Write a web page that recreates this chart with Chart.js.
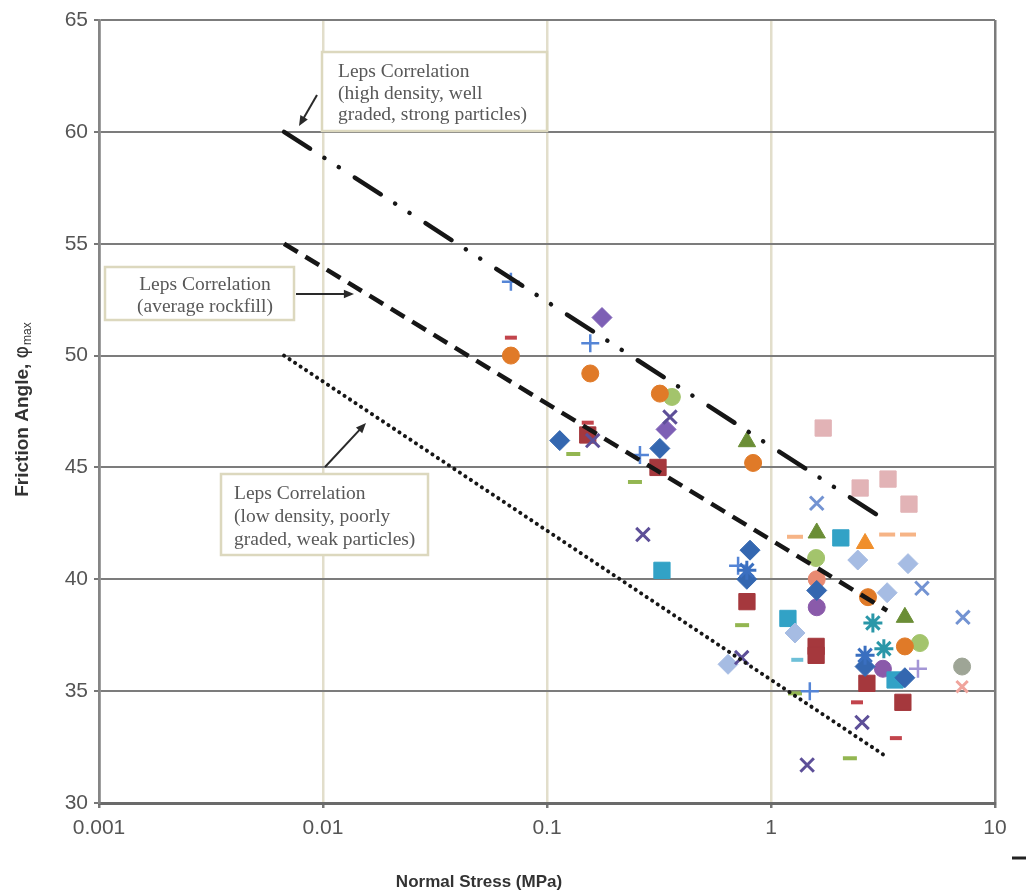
<!DOCTYPE html>
<html>
<head>
<meta charset="utf-8">
<script src="https://cdn.jsdelivr.net/npm/chart.js@4.4.0/dist/chart.umd.min.js"></script>
<style>
  html, body { margin: 0; padding: 0; background: #fff; }
  #wrap { width: 1026px; height: 896px; }
</style>
</head>
<body>
<div id="wrap"><canvas id="chart" width="1026" height="896"></canvas></div>
<script>
// axis ticks
const xTicks = [0.001, 0.01, 0.1, 1, 10];
const xTickLabels = ['0.001', '0.01', '0.1', '1', '10'];

// Leps correlation lines [stress MPa, friction angle]
const lineHigh = [[0.0067, 60], [3.23, 42.65]];
const lineAvg = [[0.0067, 55], [3.3, 38.6]];
const lineLow = [[0.0067, 50], [3.3, 32.05]];

// test data, one list per marker series [stress MPa, friction angle]
const blueDiamond = [[0.114, 46.2], [0.319, 45.85], [0.806, 41.3], [0.78, 40.0], [1.60, 39.5], [2.63, 36.1], [3.96, 35.6]];
const maroonSquare = [[0.152, 46.45], [0.313, 45.0], [0.781, 39.0], [1.59, 37.0], [1.59, 36.6], [2.68, 35.35], [3.88, 34.5]];
const greenTriangle = [[0.781, 46.15], [1.60, 42.07], [3.96, 38.3]];
const purpleCross = [[0.16, 46.2], [0.354, 47.25], [0.268, 42.0], [0.74, 36.5], [1.45, 31.7], [2.55, 33.6]];
const tealStar = [[2.85, 38.05], [3.19, 36.9]];
const blueStar = [[0.78, 40.4], [2.63, 36.6]];
const orangeCircle = [[0.069, 50.0], [0.156, 49.2], [0.319, 48.3], [0.832, 45.2], [2.71, 39.2], [3.96, 37.0]];
const bluePlus = [[0.069, 53.3], [0.156, 50.55], [0.26, 45.55], [0.713, 40.6], [1.49, 35.0]];
const redDash = [[0.069, 50.8], [0.152, 47.0], [2.42, 34.5], [3.61, 32.9]];
const greenDash = [[0.131, 45.6], [0.247, 44.35], [0.743, 37.95], [1.28, 34.9], [2.25, 32.0]];
const orangeDash = [[1.28, 41.9], [3.30, 42.0], [4.09, 42.0]];
const cyanDash = [[1.31, 36.4]];
const cyanSquare = [[0.326, 40.4], [2.05, 41.85], [1.19, 38.25], [3.58, 35.5]];
const paleDiamond = [[2.44, 40.86], [4.09, 40.7], [3.30, 39.4], [1.28, 37.6], [0.643, 36.2]];
const pinkSquare = [[1.71, 46.76], [3.33, 44.48], [2.50, 44.08], [4.13, 43.36]];
const lightCross = [[1.60, 43.4], [4.72, 39.6], [7.19, 38.3]];
const greenCircle = [[0.361, 48.15], [1.59, 40.95], [4.62, 37.15]];
const orangeTriangle = [[2.63, 41.6]];
const purpleDiamond = [[0.176, 51.7], [0.34, 46.7]];
const purpleCircle = [[1.60, 38.75], [3.16, 36.0]];
const salmonCircle = [[1.60, 40.0]];
const grayCircle = [[7.13, 36.1]];
const lilacPlus = [[4.53, 36.0]];
const pinkCross = [[7.13, 35.2]];

const toXY = pts => pts.map(p => ({ x: p[0], y: p[1] }));

// marker look for each series
function markers(data, style, color, radius, width) {
    const filled = ['circle', 'rect', 'rectRot', 'triangle'].includes(style);
    return {
        data: toXY(data),
        showLine: false,
        pointStyle: style,
        pointRadius: radius,
        pointHoverRadius: radius,
        pointBackgroundColor: color,
        pointBorderColor: color,
        pointBorderWidth: filled ? 1 : width
    };
}

function leps(data, dash, width, cap) {
    return {
        data: toXY(data),
        showLine: true,
        pointRadius: 0,
        borderColor: '#161616',
        borderWidth: width,
        borderDash: dash,
        borderCapStyle: cap,
        fill: false
    };
}

const datasets = [
    leps(lineHigh, [31, 17, 0.1, 17, 0.1, 19], 4.5, 'round'),
    leps(lineAvg, [16, 9], 4.5, 'butt'),
    leps(lineLow, [0.1, 6.5], 4, 'round'),
    markers(tealStar, 'star', '#2a97a8', 9.5, 3),
    markers(blueStar, 'star', '#3a6fc0', 9.5, 3),
    markers(purpleCross, 'crossRot', '#5d4f98', 9.5, 3),
    markers(lightCross, 'crossRot', '#7393d2', 9.5, 3),
    markers(pinkCross, 'crossRot', '#f0a49c', 8, 3),
    markers(bluePlus, 'cross', '#5585d6', 9, 2.5),
    markers(lilacPlus, 'cross', '#a496d6', 9, 2.5),
    markers(redDash, 'line', '#c2444c', 6, 4),
    markers(greenDash, 'line', '#93b651', 7, 4),
    markers(orangeDash, 'line', '#f6b486', 8, 4),
    markers(cyanDash, 'line', '#6ec0d8', 6, 4),
    markers(blueDiamond, 'rectRot', '#3467b0', 10),
    markers(purpleDiamond, 'rectRot', '#7d5fb5', 10),
    markers(paleDiamond, 'rectRot', '#a6bce3', 10),
    markers(maroonSquare, 'rect', '#a5383d', 11.5),
    markers(cyanSquare, 'rect', '#32a2c6', 11.5),
    markers(pinkSquare, 'rect', '#e2b3b6', 11.5),
    markers(greenTriangle, 'triangle', '#6b8e36', 10),
    markers(orangeTriangle, 'triangle', '#f08f2c', 10),
    markers(orangeCircle, 'circle', '#e07a28', 8.5),
    markers(greenCircle, 'circle', '#a3c46c', 8.5),
    markers(purpleCircle, 'circle', '#8a5aaa', 8.5),
    markers(salmonCircle, 'circle', '#e88a72', 8.5),
    markers(grayCircle, 'circle', '#9ea596', 8.5)
];

// text boxes, arrows and axis titles
const overlay = {
    id: 'overlay',
    afterDraw(chart) {
        const ctx = chart.ctx;
        ctx.save();

        function box(x, y, w, h) {
            ctx.fillStyle = '#ffffff';
            ctx.fillRect(x, y, w, h);
            ctx.strokeStyle = '#dcd8be';
            ctx.lineWidth = 2.5;
            ctx.strokeRect(x, y, w, h);
        }
        function lines(list, x, y, step, align) {
            ctx.fillStyle = '#585858';
            ctx.font = '19.5px "Liberation Serif", "DejaVu Serif", serif';
            ctx.textAlign = align;
            ctx.textBaseline = 'middle';
            list.forEach((t, i) => ctx.fillText(t, x, y + i * step));
        }
        function arrow(x1, y1, x2, y2) {
            const a = Math.atan2(y2 - y1, x2 - x1);
            const head = 11;
            ctx.strokeStyle = '#2a2a2a';
            ctx.fillStyle = '#2a2a2a';
            ctx.lineWidth = 2;
            ctx.beginPath();
            ctx.moveTo(x1, y1);
            ctx.lineTo(x2 - Math.cos(a) * head * 0.8, y2 - Math.sin(a) * head * 0.8);
            ctx.stroke();
            ctx.beginPath();
            ctx.moveTo(x2, y2);
            ctx.lineTo(x2 - head * Math.cos(a - 0.4), y2 - head * Math.sin(a - 0.4));
            ctx.lineTo(x2 - head * Math.cos(a + 0.4), y2 - head * Math.sin(a + 0.4));
            ctx.closePath();
            ctx.fill();
        }

        box(322, 52, 225, 79);
        lines(['Leps Correlation', '(high density, well', 'graded, strong particles)'], 338, 72, 21.5, 'left');
        arrow(317, 95, 299, 126);

        box(105, 267, 189, 53);
        lines(['Leps Correlation', '(average rockfill)'], 205, 285, 22, 'center');
        arrow(296, 294, 354, 294);

        box(221, 474, 207, 81);
        lines(['Leps Correlation', '(low density, poorly', 'graded, weak particles)'], 234, 494, 23, 'left');
        arrow(325, 467, 366, 423);

        // axis titles
        ctx.fillStyle = '#333333';
        ctx.textBaseline = 'middle';
        ctx.textAlign = 'center';
        ctx.font = 'bold 17px "Liberation Sans", Arial, sans-serif';
        ctx.fillText('Normal Stress (MPa)', 479, 882);

        const p1 = 'Friction Angle, ';
        const p2 = '\u03c6';
        const p3 = 'max';
        const f1 = 'bold 19px "Liberation Sans", Arial, sans-serif';
        const f2 = '19px "DejaVu Sans", sans-serif';
        const f3 = '12px "Liberation Sans", Arial, sans-serif';
        ctx.font = f1;
        const w1 = ctx.measureText(p1).width;
        ctx.font = f2;
        const w2 = ctx.measureText(p2).width;
        ctx.font = f3;
        const w3 = ctx.measureText(p3).width;
        const total = w1 + w2 + w3;
        ctx.translate(23, 410);
        ctx.rotate(-Math.PI / 2);
        ctx.textAlign = 'left';
        let x = -total / 2;
        ctx.font = f1;
        ctx.fillText(p1, x, 0);
        x += w1;
        ctx.font = f2;
        ctx.fillText(p2, x, 0);
        x += w2 + 1;
        ctx.font = f3;
        ctx.fillText(p3, x, 5);
        ctx.restore();

        // small mark at the right edge of the source picture
        ctx.save();
        ctx.strokeStyle = '#222';
        ctx.lineWidth = 3;
        ctx.beginPath();
        ctx.moveTo(1012, 858);
        ctx.lineTo(1026, 858);
        ctx.stroke();
        ctx.restore();
    }
};

const tickFont = { family: '"Liberation Sans", Arial, sans-serif', size: 21 };

new Chart(document.getElementById('chart'), {
    type: 'scatter',
    data: { datasets: datasets },
    options: {
        responsive: false,
        animation: false,
        events: [],
        layout: { padding: { left: 0, right: 31, top: 20, bottom: 0 } },
        plugins: { legend: { display: false }, tooltip: { enabled: false } },
        scales: {
            x: {
                type: 'logarithmic',
                min: 0.001,
                max: 10,
                afterBuildTicks: s => { s.ticks = xTicks.map(v => ({ value: v })); },
                afterFit: s => { s.height = 93; },
                ticks: {
                    callback: (v, i) => xTickLabels[i],
                    font: tickFont,
                    color: '#555',
                    padding: 8,
                    maxRotation: 0,
                    autoSkip: false
                },
                grid: {
                    color: c => (c.tick && (c.tick.value === 0.001 || c.tick.value === 10)) ? '#7b7b7b' : '#e2decb',
                    lineWidth: 2.5,
                    tickColor: '#777',
                    tickLength: 5
                },
                border: { color: '#6a6a6a', width: 3 }
            },
            y: {
                min: 30,
                max: 65,
                afterFit: s => { s.width = 99; },
                ticks: { stepSize: 5, font: tickFont, color: '#555', padding: 6 },
                grid: { color: '#7c7c7c', lineWidth: 2, tickColor: '#777', tickLength: 5 },
                border: { color: '#858585', width: 2.5 }
            }
        }
    },
    plugins: [overlay]
});
</script>
</body>
</html>
